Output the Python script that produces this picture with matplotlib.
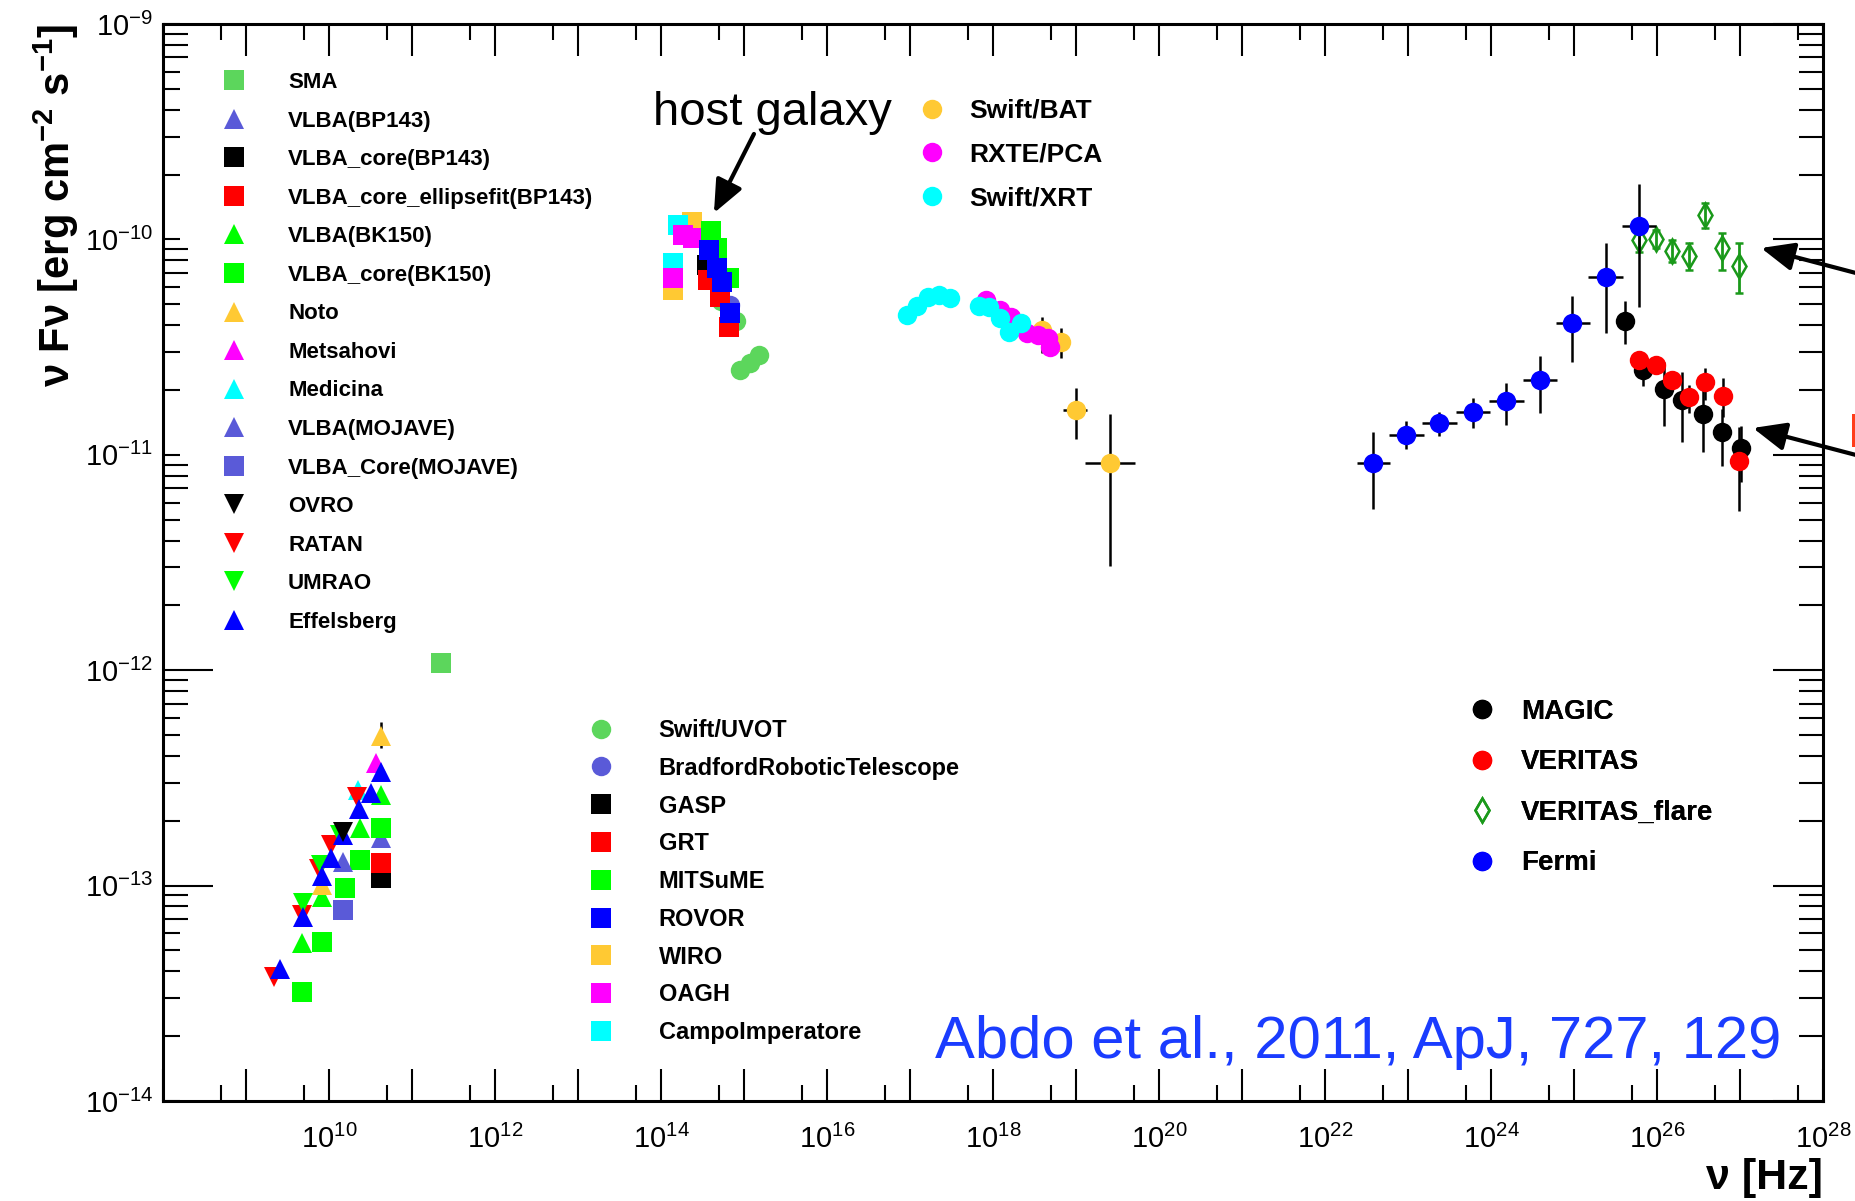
import numpy as np
import matplotlib
matplotlib.use('Agg')
import matplotlib.pyplot as plt
from matplotlib.lines import Line2D
from matplotlib.ticker import FixedLocator, FuncFormatter

plt.rcParams['font.family'] = ['Liberation Sans', 'DejaVu Sans']
plt.rcParams['mathtext.fontset'] = 'custom'
plt.rcParams['mathtext.rm'] = 'Liberation Sans'
plt.rcParams['mathtext.bf'] = 'Liberation Sans:bold'
plt.rcParams['mathtext.it'] = 'Liberation Sans:italic'

# colours (ROOT palette)
LGREEN = '#5cd65c'
SLATE = '#5a5ad8'
ORANGE = '#ffc933'
FLARE = '#1a991a'

# ---- radio ----
sma_nu = [2.26e11]
sma_f = [1.08e-12]
vlba_bp_nu = [4.27e10]
vlba_bp_f = [1.66e-13]
core_bp_nu = [4.27e10]
core_bp_f = [1.08e-13]
ell_bp_nu = [4.27e10]
ell_bp_f = [1.27e-13]
vlba_bk_nu = [4.27e10, 2.36e10, 8.24e9, 4.73e9]
vlba_bk_f = [2.64e-13, 1.85e-13, 8.87e-14, 5.40e-14]
core_bk_nu = [4.27e10, 2.36e10, 1.55e10, 8.24e9, 4.73e9]
core_bk_f = [1.85e-13, 1.31e-13, 9.70e-14, 5.49e-14, 3.21e-14]
noto_nu = [4.27e10, 8.24e9]
noto_f = [4.95e-13, 1.01e-13]
noto_flo = [4.34e-13, 1.01e-13]
noto_fhi = [5.77e-13, 1.01e-13]
mets_nu = [3.68e10]
mets_f = [3.72e-13]
medi_nu = [2.24e10]
medi_f = [2.78e-13]
mojave_nu = [1.49e10]
mojave_f = [1.29e-13]
mojcore_nu = [1.49e10]
mojcore_f = [7.71e-14]
ovro_nu = [1.46e10]
ovro_f = [1.78e-13]
ratan_nu = [2.16e10, 1.05e10, 7.52e9, 4.73e9, 2.17e9]
ratan_f = [2.59e-13, 1.54e-13, 1.20e-13, 7.30e-14, 3.78e-14]
umrao_nu = [1.36e10, 8.0e9, 4.90e9]
umrao_f = [1.72e-13, 1.25e-13, 8.28e-14]
effb_nu = [4.27e10, 3.18e10, 2.28e10, 1.46e10, 1.05e10, 8.24e9, 4.90e9, 2.57e9]
effb_f = [3.38e-13, 2.68e-13, 2.27e-13, 1.72e-13, 1.35e-13, 1.11e-13, 7.18e-14, 4.08e-14]

# ---- optical / UV ----
campo_nu = [1.61e14, 1.41e14]
campo_f = [1.17e-10, 7.75e-11]
wiro_nu = [2.38e14, 1.41e14]
wiro_f = [1.21e-10, 5.82e-11]
oagh_nu = [1.86e14, 2.41e14, 1.41e14]
oagh_f = [1.05e-10, 1.01e-10, 6.59e-11]
mitsume_nu = [3.97e14, 4.77e14, 6.59e14]
mitsume_f = [1.09e-10, 9.10e-11, 6.59e-11]
rovor_nu = [3.82e14, 4.69e14, 5.43e14, 6.78e14]
rovor_f = [8.93e-11, 7.35e-11, 6.37e-11, 4.54e-11]
grt_nu = [3.72e14, 5.14e14, 6.65e14]
grt_f = [6.48e-11, 5.42e-11, 3.94e-11]
gasp_nu = [3.55e14]
gasp_f = [7.60e-11]
brt_nu = [6.78e14]
brt_f = [4.95e-11]
uvot_nu = [5.3e14, 8.0e14, 8.96e14, 1.18e15, 1.53e15]
uvot_f = [5.2e-11, 4.2e-11, 2.48e-11, 2.66e-11, 2.91e-11]

# ---- X-ray ----
xrt_nu = [9.08e16, 1.22e17, 1.65e17, 2.25e17, 3.03e17, 6.75e17, 8.83e17, 1.21e18, 1.58e18, 2.19e18]
xrt_f = [4.45e-11, 4.92e-11, 5.42e-11, 5.52e-11, 5.33e-11, 4.92e-11, 4.87e-11, 4.30e-11, 3.73e-11, 4.10e-11]
pca_nu = [8.30e17, 1.21e18, 1.67e18, 2.56e18, 3.53e18, 4.60e18, 4.86e18]
pca_f = [5.24e-11, 4.70e-11, 4.38e-11, 3.66e-11, 3.60e-11, 3.47e-11, 3.18e-11]
bat_nu = [3.93e18, 6.56e18, 9.95e18, 2.59e19]
bat_nulo = [3.93e18, 6.56e18, 7.06e18, 1.30e19]
bat_nuhi = [3.93e18, 6.56e18, 1.34e19, 5.08e19]
bat_f = [3.79e-11, 3.35e-11, 1.61e-11, 9.18e-12]
bat_flo = [2.96e-11, 2.81e-11, 1.19e-11, 3.05e-12]
bat_fhi = [4.38e-11, 3.86e-11, 2.04e-11, 1.55e-11]

# ---- gamma ----
fermi_nu = [3.83e22, 9.57e22, 2.39e23, 6.07e23, 1.53e24, 3.90e24, 9.53e24, 2.41e25, 6.14e25]
fermi_nulo = [2.41e22, 5.86e22, 1.49e23, 3.79e23, 9.46e23, 2.41e24, 6.07e24, 1.48e25, 3.79e25]
fermi_nuhi = [6.14e22, 1.56e23, 3.86e23, 9.84e23, 2.51e24, 6.25e24, 1.56e25, 3.94e25, 9.64e25]
fermi_f = [9.18e-12, 1.24e-11, 1.41e-11, 1.58e-11, 1.78e-11, 2.22e-11, 4.07e-11, 6.67e-11, 1.15e-10]
fermi_flo = [5.58e-12, 1.06e-11, 1.22e-11, 1.33e-11, 1.37e-11, 1.57e-11, 2.69e-11, 3.66e-11, 4.87e-11]
fermi_fhi = [1.28e-11, 1.43e-11, 1.58e-11, 1.83e-11, 2.16e-11, 2.88e-11, 5.46e-11, 9.59e-11, 1.81e-10]

magic_nu = [4.06e25, 6.85e25, 1.20e26, 2.02e26, 3.63e26, 6.07e26, 1.04e27]
magic_f = [4.20e-11, 2.48e-11, 2.01e-11, 1.80e-11, 1.55e-11, 1.27e-11, 1.07e-11]
magic_flo = [3.26e-11, 2.08e-11, 1.36e-11, 1.15e-11, 1.03e-11, 8.87e-12, 7.50e-12]
magic_fhi = [5.19e-11, 2.98e-11, 2.70e-11, 2.43e-11, 2.07e-11, 1.64e-11, 1.36e-11]

veritas_nu = [6.02e25, 9.65e25, 1.53e26, 2.43e26, 3.82e26, 6.19e26, 9.73e26]
veritas_f = [2.75e-11, 2.61e-11, 2.22e-11, 1.85e-11, 2.18e-11, 1.87e-11, 9.35e-12]
veritas_flo = [2.53e-11, 2.40e-11, 2.02e-11, 1.56e-11, 1.80e-11, 1.50e-11, 5.50e-12]
veritas_fhi = [3.00e-11, 2.84e-11, 2.45e-11, 2.11e-11, 2.52e-11, 2.27e-11, 1.35e-11]

flare_nu = [6.0e25, 9.6e25, 1.53e26, 2.43e26, 3.8e26, 6.1e26, 9.7e26]
flare_f = [9.93e-11, 1.00e-10, 8.87e-11, 8.39e-11, 1.30e-10, 9.10e-11, 7.53e-11]
flare_flo = [8.77e-11, 9.10e-11, 7.87e-11, 7.21e-11, 1.13e-10, 7.21e-11, 5.62e-11]
flare_fhi = [1.09e-10, 1.11e-10, 9.93e-11, 9.59e-11, 1.47e-10, 1.07e-10, 9.66e-11]

MS = 14

fig = plt.figure(figsize=(18.56, 12.01), dpi=100)
ax = fig.add_axes([163 / 1856, 1 - 1101 / 1201, 1660 / 1856, 1077 / 1201])
ax.set_xscale('log')
ax.set_yscale('log')


def pts(nu, f, marker, color, z, ms=MS):
    ax.plot(nu, f, ls='none', marker=marker, ms=ms, color=color, mew=0, zorder=z)
    return Line2D([], [], ls='none', marker=marker, ms=ms, color=color, mew=0)


def asym(v, lo, hi):
    v = np.asarray(v)
    return [v - np.asarray(lo), np.asarray(hi) - v]


ebar = dict(ls='none', ecolor='black', elinewidth=1.8, capsize=3.5, capthick=1.8, mew=0)

# radio
h_sma = pts(sma_nu, sma_f, 's', LGREEN, 3)
h_vbp = pts(vlba_bp_nu, vlba_bp_f, '^', SLATE, 3)
h_cbp = pts(core_bp_nu, core_bp_f, 's', 'black', 3)
h_ebp = pts(ell_bp_nu, ell_bp_f, 's', 'red', 3.1)
h_vbk = pts(vlba_bk_nu, vlba_bk_f, '^', '#00ff00', 3)
h_cbk = pts(core_bk_nu, core_bk_f, 's', '#00ff00', 3.2)
ax.errorbar(noto_nu, noto_f, yerr=asym(noto_f, noto_flo, noto_fhi), marker='^', ms=MS,
            color=ORANGE, zorder=3, **ebar)
h_noto = Line2D([], [], ls='none', marker='^', ms=MS, color=ORANGE, mew=0)
h_mets = pts(mets_nu, mets_f, '^', '#ff00ff', 3)
h_medi = pts(medi_nu, medi_f, '^', '#00ffff', 3)
h_moj = pts(mojave_nu, mojave_f, '^', SLATE, 3.3)
h_mojc = pts(mojcore_nu, mojcore_f, 's', SLATE, 3.3)
h_ratan = pts(ratan_nu, ratan_f, 'v', 'red', 3.4)
h_umrao = pts(umrao_nu, umrao_f, 'v', '#00ff00', 3.4)
h_ovro = pts(ovro_nu, ovro_f, 'v', 'black', 3.6)
h_effb = pts(effb_nu, effb_f, '^', 'blue', 3.5)

# optical / UV
h_uvot = pts(uvot_nu, uvot_f, 'o', LGREEN, 3)
h_brt = pts(brt_nu, brt_f, 'o', SLATE, 3.05)
h_wiro = pts(wiro_nu, wiro_f, 's', ORANGE, 3.1)
h_campo = pts(campo_nu, campo_f, 's', '#00ffff', 3.2)
h_oagh = pts(oagh_nu, oagh_f, 's', '#ff00ff', 3.3)
h_mits = pts(mitsume_nu, mitsume_f, 's', '#00ff00', 3.4)
h_gasp = pts(gasp_nu, gasp_f, 's', 'black', 3.45)
h_grt = pts(grt_nu, grt_f, 's', 'red', 3.5)
h_rovor = pts(rovor_nu, rovor_f, 's', 'blue', 3.6)

# X-ray
ax.errorbar(bat_nu, bat_f, yerr=asym(bat_f, bat_flo, bat_fhi), xerr=asym(bat_nu, bat_nulo, bat_nuhi),
            marker='o', ms=MS, color=ORANGE, zorder=3, **ebar)
h_bat = Line2D([], [], ls='none', marker='o', ms=MS, color=ORANGE, mew=0)
h_pca = pts(pca_nu, pca_f, 'o', '#ff00ff', 3.5)
h_xrt = pts(xrt_nu, xrt_f, 'o', '#00ffff', 3.6)

# gamma
ax.errorbar(flare_nu, flare_f, yerr=asym(flare_f, flare_flo, flare_fhi), marker='d', ms=12,
            mfc='none', mec=FLARE, color=FLARE, ls='none', ecolor=FLARE, elinewidth=2,
            capsize=3, capthick=2, mew=1.8, zorder=3)
h_flare = Line2D([], [], ls='none', marker='d', ms=12, mfc='none', mec=FLARE, mew=1.8)
ax.errorbar(magic_nu, magic_f, yerr=asym(magic_f, magic_flo, magic_fhi), marker='o', ms=MS,
            color='black', zorder=3.2, **ebar)
h_magic = Line2D([], [], ls='none', marker='o', ms=MS, color='black', mew=0)
ax.errorbar(veritas_nu, veritas_f, yerr=asym(veritas_f, veritas_flo, veritas_fhi), marker='o', ms=MS,
            color='red', zorder=3.3, **ebar)
h_ver = Line2D([], [], ls='none', marker='o', ms=MS, color='red', mew=0)
ax.errorbar(fermi_nu, fermi_f, yerr=asym(fermi_f, fermi_flo, fermi_fhi),
            xerr=asym(fermi_nu, fermi_nulo, fermi_nuhi), marker='o', ms=MS,
            color='blue', zorder=3.4, **ebar)
h_fermi = Line2D([], [], ls='none', marker='o', ms=MS, color='blue', mew=0)

# axes
ax.set_xlim(1e8, 1e28)
ax.set_ylim(1e-14, 1e-9)
xdec = 10.0 ** np.arange(8, 29)
ydec = 10.0 ** np.arange(-14, -8)
ax.xaxis.set_major_locator(FixedLocator(xdec))
ax.xaxis.set_minor_locator(FixedLocator(5 * xdec[:-1]))
ax.yaxis.set_major_locator(FixedLocator(ydec))
ax.yaxis.set_minor_locator(FixedLocator([m * d for d in ydec[:-1] for m in range(2, 10)]))


def xfmt(v, p):
    e = int(round(np.log10(v)))
    return r'$\mathregular{10^{%d}}$' % e if (e % 2 == 0 and e >= 10) else ''


ax.xaxis.set_major_formatter(FuncFormatter(xfmt))
ax.yaxis.set_major_formatter(FuncFormatter(lambda v, p: r'$\mathregular{10^{%d}}$' % int(round(np.log10(v)))))
ax.xaxis.set_minor_formatter(FuncFormatter(lambda v, p: ''))
ax.yaxis.set_minor_formatter(FuncFormatter(lambda v, p: ''))

for s in ax.spines.values():
    s.set_linewidth(2.2)
ax.tick_params(axis='x', which='major', direction='in', length=23, width=1.5, top=True, bottom=True,
               labelsize=21, pad=17)
ax.tick_params(axis='x', which='minor', direction='in', length=11.5, width=1.5, top=True, bottom=True)
ax.tick_params(axis='y', which='both', direction='in', width=1.5, left=True, right=True,
               labelsize=21, pad=7)

# legends
def leg(handles, labels, x, y, fs, hl, htp, ls):
    lg = ax.legend(handles, labels, loc='upper left', bbox_to_anchor=(x / 1856, 1 - y / 1201),
                   bbox_transform=fig.transFigure, frameon=False,
                   prop={'weight': 'bold', 'size': fs}, handlelength=hl, handletextpad=htp,
                   labelspacing=ls, borderpad=0, borderaxespad=0, numpoints=1)
    ax.add_artist(lg)


leg([h_sma, h_vbp, h_cbp, h_ebp, h_vbk, h_cbk, h_noto, h_mets, h_medi, h_moj, h_mojc,
     h_ovro, h_ratan, h_umrao, h_effb],
    ['SMA', 'VLBA(BP143)', 'VLBA_core(BP143)', 'VLBA_core_ellipsefit(BP143)', 'VLBA(BK150)',
     'VLBA_core(BK150)', 'Noto', 'Metsahovi', 'Medicina', 'VLBA(MOJAVE)', 'VLBA_Core(MOJAVE)',
     'OVRO', 'RATAN', 'UMRAO', 'Effelsberg'],
    212, 72, 16, 2, 1.42, 0.79)
leg([h_bat, h_pca, h_xrt], ['Swift/BAT', 'RXTE/PCA', 'Swift/XRT'], 919, 99, 19, 1, 0.9, 0.74)
leg([h_uvot, h_brt, h_gasp, h_grt, h_mits, h_rovor, h_wiro, h_oagh, h_campo],
    ['Swift/UVOT', 'BradfordRoboticTelescope', 'GASP', 'GRT', 'MITSuME', 'ROVOR', 'WIRO',
     'OAGH', 'CampoImperatore'],
    577, 719, 17, 2, 1.46, 0.625)
leg([h_magic, h_ver, h_flare, h_fermi], ['MAGIC', 'VERITAS', 'VERITAS_flare', 'Fermi'],
    1468, 699, 20, 1, 0.9, 0.88)

# annotations
arrow = dict(arrowstyle='-|>,head_length=1.0,head_width=0.43', lw=3, color='black',
             shrinkA=0, shrinkB=0, mutation_scale=20)
ax.annotate('', xy=(0.3319, 0.8245), xytext=(0.356, 0.8979), xycoords='axes fraction',
            arrowprops=arrow)
ax.text(0.2952, 1 - (125 - 24) / 1077, 'host galaxy', transform=ax.transAxes, fontsize=34,
        va='baseline', ha='left')
ax.annotate('', xy=(0.9627, 0.792), xytext=(1.0464, 0.758), xycoords='axes fraction',
            arrowprops=arrow, annotation_clip=False)
ax.annotate('', xy=(0.9578, 0.6249), xytext=(1.0464, 0.5891), xycoords='axes fraction',
            arrowprops=arrow, annotation_clip=False)
fig.text(1848.4 / 1856, 1 - 447 / 1201, 'Low state', color='#ff3d1a', fontsize=35, va='baseline')
fig.text(1781 / 1856, 1 - 1058 / 1201, 'Abdo et al., 2011, ApJ, 727, 129', color='#1a3cff',
         fontsize=43, ha='right', va='baseline')

fig.text(56 / 1856, 1 - 24 / 1201, r'ν Fν [erg cm$^{\mathbf{-2}}$ s$^{\mathbf{-1}}$]',
         rotation=90, ha='center', va='top', fontsize=30, fontweight='bold')
fig.text(1823 / 1856, 1 - 1178 / 1201, 'ν [Hz]', ha='right', va='center', fontsize=31,
         fontweight='bold')

# per-tick lengths on the y axis (ROOT-like)
fig.canvas.draw()
for t in ax.yaxis.get_major_ticks():
    e = int(round(np.log10(t.get_loc())))
    t.tick1line.set_markersize(36 if e in (-12, -13) else 12)
    t.tick2line.set_markersize(36)
for t in ax.yaxis.get_minor_ticks():
    v = t.get_loc()
    m = int(round(v / 10 ** np.floor(np.log10(v) + 1e-9)))
    t.tick1line.set_markersize(18 if m >= 7 else 12)
    t.tick2line.set_markersize(17)

fig.savefig('out.png', dpi=100)
